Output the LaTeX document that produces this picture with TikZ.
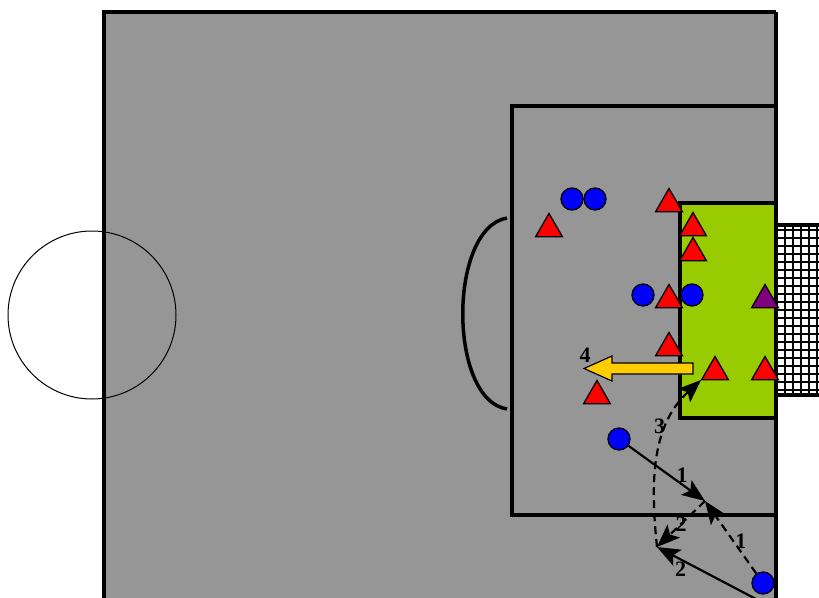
\documentclass[tikz,border=0pt]{standalone}
\usepackage{fontspec}
\setmainfont{Liberation Serif}
\usetikzlibrary{shapes.geometric, arrows.meta, positioning}
\definecolor{pitchgray}{HTML}{969696}
\definecolor{goalgreen}{HTML}{99CC00}
\definecolor{ballyellow}{HTML}{FFCC00}
\definecolor{keeperpurple}{HTML}{800080}

\begin{document}
\begin{tikzpicture}[x=1pt, y=-1pt,
            field/.style={line width=3.5pt},
            blueplayer/.style={circle, draw=black, line width=1.3pt, fill=blue, minimum size=22pt, inner sep=0pt},
            redplayer/.style={regular polygon, regular polygon sides=3, draw=black, line width=1.3pt, fill=red, minimum size=31pt, inner sep=0pt},
            keeper/.style={redplayer, fill=keeperpurple},
            pass/.style={line width=2.2pt, -{Stealth[length=23pt, width=18pt, inset=5pt]}},
            run/.style={pass, dash pattern=on 8pt off 5pt},
            num/.style={font=\bfseries\fontsize{22}{22}\selectfont, inner sep=1pt}]

            \useasboundingbox (0,0) rectangle (819,597);
            \clip (0,0) rectangle (819,597);

            % --- Campo ---
            \fill[pitchgray] (104,12) rectangle (776,620);
            \draw[line width=1pt] (92,315) circle[radius=84];
            \draw[field] (104,620) -- (104,12) -- (776,12);
            \draw[field] (776,106) -- (512,106) -- (512,515) -- (776,515);
            \draw[field] (507,218) .. controls (448,228) and (448,400) .. (507,409);

            % --- Area chica y red ---
            \filldraw[fill=goalgreen, field] (776,203) -- (680,203) -- (680,418) -- (776,418);
            \fill[white] (776,225) rectangle (830,395);
            \foreach \x in {785,793,801,809,817}
                \draw[line width=1.6pt] (\x,225) -- (\x,395);
            \foreach \y in {230,238,246,254,262,270,278,286,294,302,310,318,326,334,342,350,358,366,374,382,390}
                \draw[line width=1.6pt] (776,\y) -- (830,\y);
            \draw[field] (776,225) -- (830,225);
            \draw[field] (776,395) -- (830,395);
            \draw[field] (776,12) -- (776,620);

            % --- Jugadores ---
            \node[blueplayer] (b1) at (572,199) {};
            \node[blueplayer] (b2) at (595,199) {};
            \node[redplayer] (r1) at (549,229) {};
            \node[redplayer] (r2) at (669,204) {};
            \node[redplayer] (r3) at (693,228) {};
            \node[redplayer] (r4) at (693,253) {};
            \node[blueplayer] (b3) at (643,295) {};
            \node[redplayer] (r5) at (669,300) {};
            \node[blueplayer] (b4) at (692,295) {};
            \node[keeper] (gk) at (765,300) {};
            \node[redplayer] (r6) at (669,348) {};
            \node[redplayer] (r7) at (715,372) {};
            \node[redplayer] (r8) at (765,372) {};
            \node[redplayer] (r9) at (597,396) {};
            \node[blueplayer] (b5) at (619,439) {};
            \node[blueplayer] (b6) at (763,583) {};

            % --- Salida (4) ---
            \draw[line width=1.2pt, fill=ballyellow] (693,363) -- (612,363) -- (612,356) -- (584,368.5) -- (612,381) -- (612,374) -- (693,374) -- cycle;
            \node[num] (l4) at (585,355) {4};

            % --- Pases y desmarques ---
            \coordinate (m1) at (705,501);
            \coordinate (m2) at (657,547);
            \coordinate (g3) at (701,380);
            \coordinate (s2) at (775,609);

            \draw[pass] (b5) -- node[num, pos=0.7, above] {1} (m1);
            \draw[run] (b6) -- node[num, pos=0.45, right] {1} (m1);
            \draw[run] (m1) -- node[num, midway] {2} (m2);
            \draw[pass] (s2) -- node[num, pos=0.8, below] {2} (m2);
            \draw[run] (m2) .. controls (650,480) and (652,425) .. node[num, pos=0.68, left] {3} (g3);

        \end{tikzpicture}
\end{document}
